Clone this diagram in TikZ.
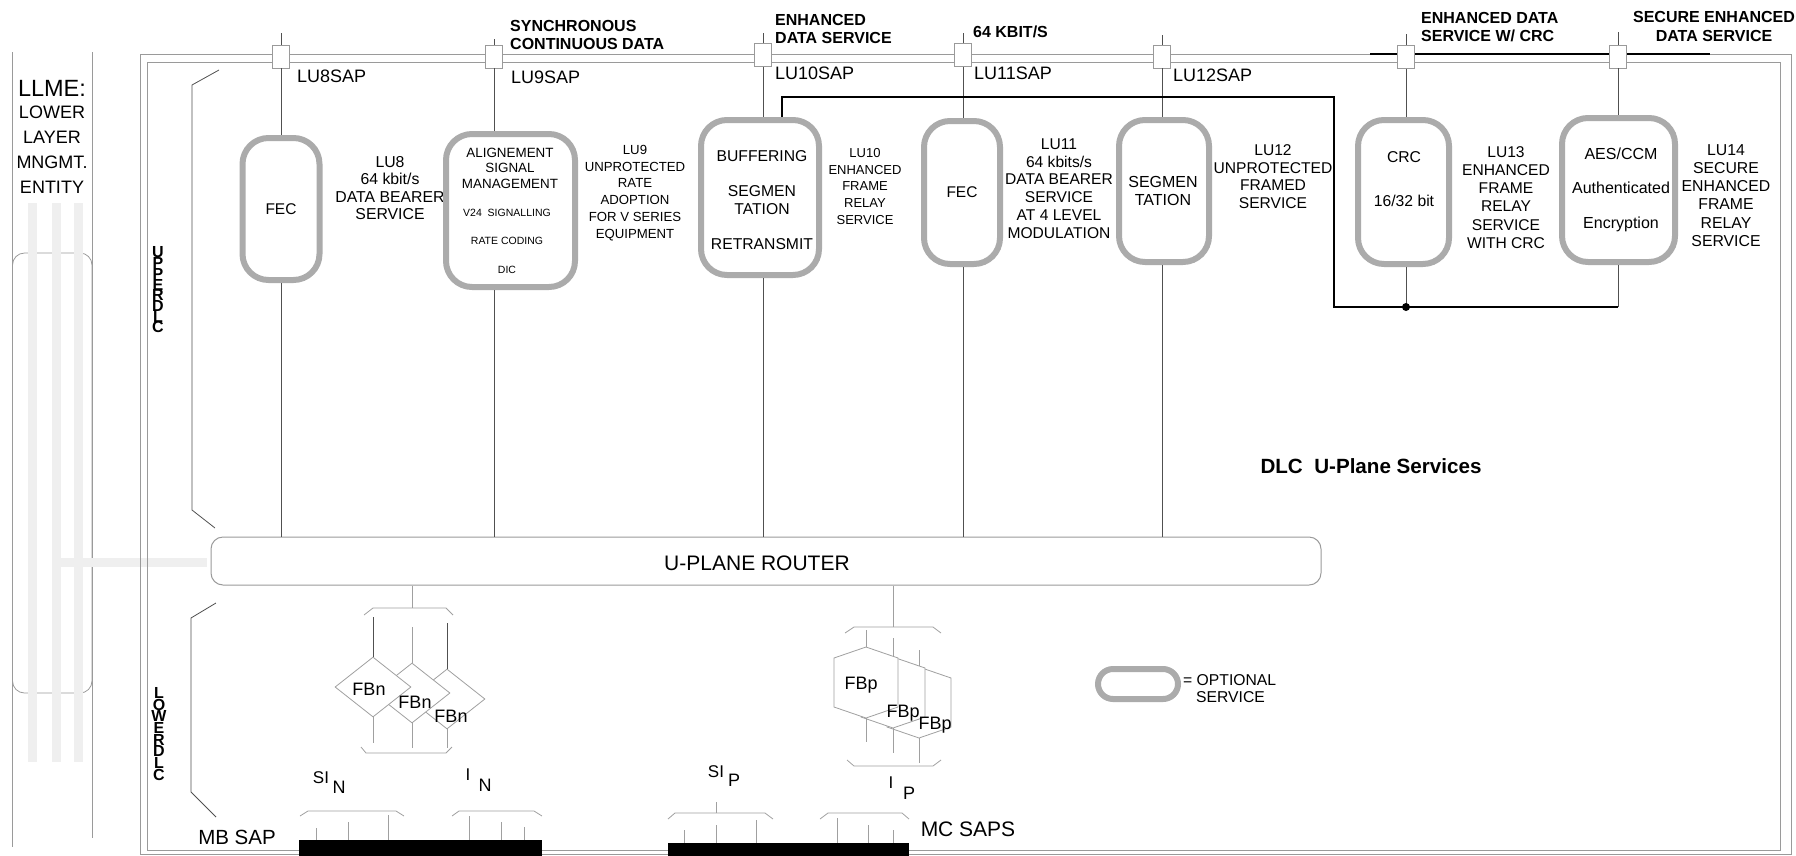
\documentclass[tikz,border=0pt]{standalone}
\usepackage{fontspec}
\setmainfont{Liberation Sans}
\usetikzlibrary{shapes.geometric}
\definecolor{framec}{HTML}{9A9A9A}
\definecolor{connc}{HTML}{505050}
\definecolor{optc}{HTML}{ABABAB}
\definecolor{bandc}{HTML}{EFEFEF}
\definecolor{trayc}{HTML}{A0A0A0}
\newcommand\fs[2]{\fontsize{#1}{#2}\selectfont}
\newcommand\negls{\lineskiplimit=-20pt\relax}
\begin{document}
\begin{tikzpicture}[x=1pt,y=-1pt,
 fr/.style={draw=framec,line width=1pt},
 conn/.style={draw=connc,line width=1pt},
 blk/.style={draw=black,line width=1.2pt},
 sapbox/.style={draw=framec,fill=white,line width=0.8pt,minimum width=17pt,minimum height=23pt,inner sep=0pt},
 opt/.style={draw=optc,line width=6pt,fill=white,rounded corners=26pt,inner sep=0pt},
 txt/.style={inner sep=0pt,align=center},
 boldtop/.style={inner sep=0pt,align=left,anchor=west,font=\bfseries\fs{16}{17.5}},
 saplbl/.style={inner sep=0pt,anchor=west,font=\fs{18}{20}},
 tray/.style={draw=trayc,line width=0.8pt},
 hexfb/.style={draw=trayc,fill=white,line width=0.8pt},
 band/.style={fill=bandc},
 llmeline/.style={draw=framec,line width=0.8pt},
 vtext/.style={inner sep=0pt,align=center}]
\useasboundingbox (0,0) rectangle (1796,855);

% ---------- LLME column ----------
\draw[llmeline] (12.5,52) -- (12.5,847);
\draw[llmeline] (92,52) -- (92,838);
\draw[llmeline,rounded corners=12pt] (12.5,253) rectangle (92,693);
\fill[band] (28,203) rectangle (37,762);
\fill[band] (52,203) rectangle (61,762);
\fill[band] (74,203) rectangle (83,762);
\fill[band] (52,558) rectangle (207,567);
\node[txt,font=\fs{23.5}{26}] (llme) at (52,88) {LLME:};
\node[txt,font=\fs{18}{25}] (llmetxt) at (52,149.5) {LOWER\\LAYER\\MNGMT.\\ENTITY};

% ---------- frame ----------
\draw[fr] (140,54) rectangle (1791,854);
\draw[fr] (147,62) rectangle (1780,850);
\draw[blk] (1370,54) -- (1710,54);

% ---------- side brackets ----------
\draw[conn,line width=0.8pt] (219,70) -- (192,85) -- (192,510) -- (215,528);
\draw[conn,line width=0.8pt] (216,603) -- (191,618) -- (191,792) -- (216,817);
\node[vtext,font=\bfseries\fs{16}{10.7}\negls] (udlc) at (158,290) {U\\P\\P\\E\\R\\D\\L\\C};
\node[vtext,font=\bfseries\fs{16}{11.7}\negls] (ldlc) at (159,734) {L\\O\\W\\E\\R\\D\\L\\C};

% ---------- top labels ----------
\node[boldtop] (tl9) at (510,35) {SYNCHRONOUS\\CONTINUOUS DATA};
\node[boldtop] (tl10) at (775,29) {ENHANCED\\DATA SERVICE};
\node[boldtop] (tl11) at (973,32) {64 KBIT/S};
\node[boldtop] (tl13) at (1421,27) {ENHANCED DATA\\SERVICE W/ CRC};
\node[inner sep=0pt,align=center,font=\bfseries\fs{16}{19}] (tl14) at (1714,26.5) {SECURE ENHANCED\\DATA SERVICE};

% ---------- service labels (drawn before boxes) ----------
\node[txt,font=\fs{15.8}{17.3}] (l8) at (390,188) {LU8\\64 kbit/s\\DATA BEARER\\SERVICE};
\node[txt,font=\fs{13.2}{16.8}] (l9) at (635,193) {LU9\\UNPROTECTED\\RATE\\ADOPTION\\FOR V SERIES\\EQUIPMENT};
\node[txt,font=\fs{13}{16.8}] (l10) at (865,186.5) {LU10\\ENHANCED\\FRAME\\RELAY\\SERVICE};
\node[txt,font=\fs{15.6}{17.8}] (l11) at (1059,188.5) {LU11\\64 kbits/s\\DATA BEARER\\SERVICE\\AT 4 LEVEL\\MODULATION};
\node[txt,font=\fs{15.6}{17.7}] (l12) at (1273,176.5) {LU12\\UNPROTECTED\\FRAMED\\SERVICE};
\node[txt,font=\fs{15.6}{18.1}] (l13) at (1506,197.5) {LU13\\ENHANCED\\FRAME\\RELAY\\SERVICE\\WITH CRC};
\node[txt,font=\fs{15.8}{18.2}] (l14) at (1726,195.5) {LU14\\SECURE\\ENHANCED\\FRAME\\RELAY\\SERVICE};

% ---------- router ----------
\node[draw=framec,line width=1pt,rounded corners=12pt,minimum width=1110pt,minimum height=48pt,inner sep=0pt] (router) at (766,561) {};
\node[txt,font=\fs{21}{24}] (rtxt) at (757,563) {U-PLANE ROUTER};

% ---------- SAP boxes ----------
\coordinate (t8) at (281,33);
\coordinate (t9) at (494,39);
\coordinate (t10) at (763,33);
\coordinate (t11) at (963,33);
\coordinate (t12) at (1162,35);
\coordinate (t13) at (1406,34);
\coordinate (t14) at (1618,32);
\draw[conn] (t8) -- (281,60);
\draw[conn] (t9) -- (494,60);
\draw[conn] (t10) -- (763,60);
\draw[conn] (t11) -- (963,60);
\draw[conn] (t12) -- (1162,60);
\draw[conn] (t13) -- (1406,60);
\draw[conn] (t14) -- (1618,60);
\node[sapbox] (s8) at (281,56.5) {};
\node[sapbox] (s9) at (494,56.5) {};
\node[sapbox] (s10) at (763,55) {};
\node[sapbox] (s11) at (963,55) {};
\node[sapbox] (s12) at (1162,56.5) {};
\node[sapbox] (s13) at (1406,57) {};
\node[sapbox] (s14) at (1618,56.5) {};
\node[saplbl] (n8) at (297,76) {LU8SAP};
\node[saplbl] (n9) at (511,77) {LU9SAP};
\node[saplbl] (n10) at (775,73) {LU10SAP};
\node[saplbl] (n11) at (974,73) {LU11SAP};
\node[saplbl] (n12) at (1173,75) {LU12SAP};

% ---------- optional service boxes ----------
\node[opt,minimum width=77pt,minimum height=142pt] (b8) at (281,209) {};
\node[opt,minimum width=129pt,minimum height=153pt] (b9) at (510.5,210.5) {};
\node[opt,minimum width=118pt,minimum height=155pt] (b10) at (760,197.5) {};
\node[opt,minimum width=76pt,minimum height=143pt] (b11) at (962,192.5) {};
\node[opt,minimum width=90pt,minimum height=142pt] (b12) at (1164,191) {};
\node[opt,minimum width=91pt,minimum height=144pt] (b13) at (1403.5,192) {};
\node[opt,minimum width=113pt,minimum height=144pt] (b14) at (1618.5,190) {};

\node[txt,font=\fs{15.5}{18}] (x8) at (b8) {FEC};
\node[txt,font=\fs{13.4}{15.5}] (x9a) at (510,168) {ALIGNEMENT\\SIGNAL\\MANAGEMENT};
\node[txt,font=\fs{10.5}{28.5}] (x9b) at (507,241) {V24\ \ SIGNALLING\\RATE CODING\\DIC};
\node[txt,font=\fs{15.7}{18}] (x10) at (762,200) {BUFFERING\\[17pt]SEGMEN\\TATION\\[17pt]RETRANSMIT};
\node[txt,font=\fs{15.5}{18}] (x11) at (b11) {FEC};
\node[txt,font=\fs{16}{17.5}] (x12) at (1163,191) {SEGMEN\\TATION};
\node[txt,font=\fs{15.7}{18}] (x13) at (1404,179) {CRC\\[26pt]16/32 bit};
\node[txt,font=\fs{16}{18}] (x14) at (1621,189.5) {AES/CCM\\[16.5pt]Authenticated\\[16.5pt]Encryption};

% ---------- connectors SAP -> box -> router ----------
\draw[conn] (s8.south) -- (b8.north);
\draw[conn] (s9.south) -- (s9.south |- b9.north);
\draw[conn] (s10.south) -- (s10.south |- b10.north);
\draw[conn] (s11.south) -- (s11.south |- b11.north);
\draw[conn] (s12.south) -- (s12.south |- b12.north);
\draw[conn] (s13.south) -- (s13.south |- b13.north);
\draw[conn] (s14.south) -- (s14.south |- b14.north);
\draw[conn] (b8.south) -- (b8.south |- router.north);
\draw[conn] (s9.south |- b9.south) -- (s9.south |- router.north);
\draw[conn] (s10.south |- b10.south) -- (s10.south |- router.north);
\draw[conn] (s11.south |- b11.south) -- (s11.south |- router.north);
\draw[conn] (s12.south |- b12.south) -- (s12.south |- router.north);

% CRC feedback path
\coordinate (c10) at ([xshift=22pt]b10.north);
\coordinate (k1) at (782,97);
\coordinate (k2) at (1334,97);
\coordinate (k3) at (1334,307);
\coordinate (k4) at (1618,307);
\coordinate (dot) at (1406,307);
\draw[blk] (c10) -- (k1) -- (k2) -- (k3) -- (k4);
\draw[conn] (s13.south |- b13.south) -- (dot);
\draw[conn] (s14.south |- b14.south) -- (k4);
\fill (dot) circle (4pt);

% ---------- DLC label and legend ----------
\node[txt,font=\bfseries\fs{20.6}{22}] (dlc) at (1371,466) {DLC\ \ U-Plane Services};
\node[opt,minimum width=80pt,minimum height=30pt,rounded corners=15pt] (leg) at (1138,684) {};
\node[inner sep=0pt,anchor=west,font=\fs{15.7}{18}] (leg1) at (1183,680) {= OPTIONAL};
\node[inner sep=0pt,anchor=west,font=\fs{15.7}{18}] (leg2) at (1196,697) {SERVICE};

% ---------- FBn group ----------
\coordinate (fbnT) at (412,608);
\draw[tray] (router.south -| fbnT) -- (fbnT);
\draw[tray] (364,615) -- (373,608) -- (446,608) -- (453,615);
\node[diamond,hexfb,minimum width=76pt,minimum height=60pt,inner sep=0pt] (d3) at (447,699) {};
\node[diamond,hexfb,minimum width=76pt,minimum height=60pt,inner sep=0pt] (d2) at (412,693) {};
\node[diamond,hexfb,minimum width=76pt,minimum height=60pt,inner sep=0pt] (d1) at (373,687) {};
\draw[conn,line width=0.8pt] (373,617) -- (d1.north);
\draw[tray] (412,627) -- (d2.north);
\draw[conn,line width=0.8pt] (447,623) -- (d3.north);
\node[txt,font=\fs{18}{20}] (fbn1) at (369,689) {FBn};
\node[txt,font=\fs{18}{20}] (fbn2) at (415,702) {FBn};
\node[txt,font=\fs{18}{20}] (fbn3) at (451,716) {FBn};
\draw[tray] (d1.south) -- (373,743);
\draw[tray] (d2.south) -- (412,748);
\draw[tray] (d3.south) -- (447,748);
\draw[tray] (361,747) -- (366,753) -- (446,753) -- (452,747);

% ---------- FBp group ----------
\coordinate (fbpT) at (893,627);
\draw[tray] (router.south -| fbpT) -- (fbpT);
\draw[tray] (845,633) -- (854,627) -- (933,627) -- (941,633);
\draw[tray] (866,630) -- (866,647);
\draw[tray] (893,638) -- (893,657);
\draw[tray] (919,650) -- (919,667);
\draw[hexfb] (919,667) -- (951,678) -- (951,727) -- (919,738) -- (887,727) -- (887,678) -- cycle;
\draw[hexfb] (893,657) -- (925,668) -- (925,717) -- (893,728) -- (861,717) -- (861,668) -- cycle;
\draw[hexfb] (866,647) -- (898,658) -- (898,707) -- (866,718) -- (834,707) -- (834,658) -- cycle;
\node[txt,font=\fs{18}{20}] (fbp1) at (861,685) {FBp};
\node[txt,font=\fs{18}{20}] (fbp2) at (903,713) {FBp};
\node[txt,font=\fs{18}{20}] (fbp3) at (935,725) {FBp};
\draw[tray] (866,718) -- (866,742);
\draw[tray] (893,728) -- (893,753);
\draw[tray] (919,738) -- (919,763);
\draw[tray] (847,760) -- (854,766) -- (933,766) -- (941,760);

% ---------- bottom SAPs ----------
\node[txt,font=\fs{17}{19}] (sin) at (321,778) {SI};
\node[txt,font=\fs{18}{20}] (sinN) at (339,787) {N};
\node[txt,font=\fs{17}{19}] (in) at (468,775) {I};
\node[txt,font=\fs{18}{20}] (inN) at (485,785) {N};
\node[txt,font=\fs{17}{19}] (sip) at (716,772) {SI};
\node[txt,font=\fs{18}{20}] (sipP) at (734,780) {P};
\node[txt,font=\fs{17}{19}] (ip) at (891,783) {I};
\node[txt,font=\fs{18}{20}] (ipP) at (909,793) {P};
\node[txt,font=\fs{20.5}{22}] (mb) at (237,837) {MB SAP};
\node[txt,font=\fs{21}{23}] (mc) at (968,829) {MC SAPS};

\draw[tray] (300,816) -- (308,811) -- (396,811) -- (404,816);
\draw[tray] (316,828) -- (316,840);
\draw[tray] (348,822) -- (348,840);
\draw[tray] (388,815) -- (388,840);
\draw[tray] (452,816) -- (459,811) -- (534,811) -- (542,816);
\draw[tray] (469,816) -- (469,840);
\draw[tray] (501,822) -- (501,840);
\draw[tray] (524,827) -- (524,840);
\draw[tray] (668,819) -- (675,813) -- (765,813) -- (773,819);
\draw[tray] (716.5,802) -- (716.5,813);
\draw[tray] (684,830) -- (684,843);
\draw[tray] (716,825) -- (716,843);
\draw[tray] (756,820) -- (756,843);
\draw[tray] (820,819) -- (828,813) -- (902,813) -- (909,819);
\draw[tray] (837,818) -- (837,843);
\draw[tray] (868,825) -- (868,843);
\draw[tray] (893,830) -- (893,843);
\fill[black] (298.5,840) rectangle (541.5,856);
\fill[black] (668,843) rectangle (909,856);
\end{tikzpicture}
\end{document}
